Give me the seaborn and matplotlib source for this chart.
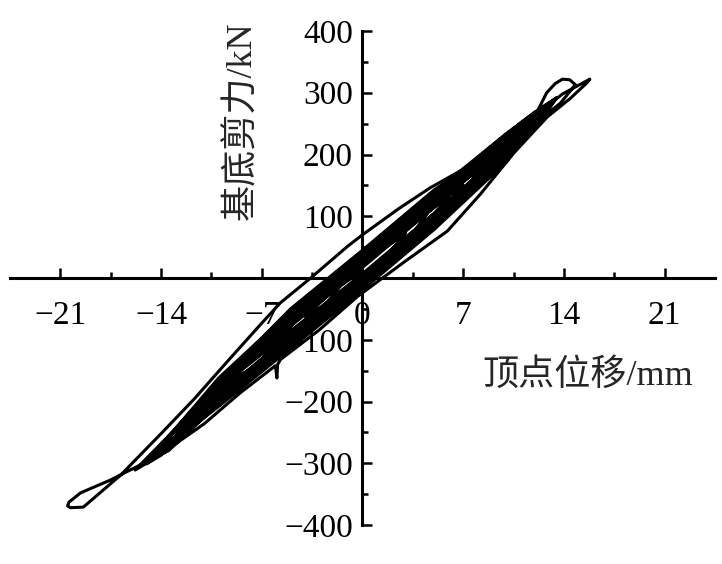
import numpy as np
import pandas as pd
import matplotlib
matplotlib.use("Agg")
import matplotlib.pyplot as plt
import seaborn as sns

# ── data: top displacement (mm) / base shear (kN) ──
# inner cycles 1-10
band1_disp = [0,
              -2.5, -1.5, 0, 2, 3, 2, 0, -3,
              -4, -3, 0, 3.5, 4.5, 3.5, 0, -4.5,
              -5.5, -4.5, 0, 5, 6, 5, 0, -5.5,
              -6.5, -5.5, 0, 6, 7, 6, 0, -6.5,
              -7.5, -6.5, 0, 5, 7, 8, 7, 5, 0, -5, -7,
              -8, -7, -5, 0, 5, 7.5, 8.5, 7.5, 5, 0, -5, -8,
              -9, -8, -5, 0, 5, 8.5, 9.5, 8.5, 5, 0, -5, -8.5,
              -9.5, -8.5, -5, 0, 5, 9, 10, 9, 5, 0, -5, -9,
              -10, -9, -5, 0, 5, 9.5, 10.5, 9.5, 5, 0, -5, -9.5,
              -10.5, -9.5, -5, 0, 5, 9.5, 10.5, 9.5, 5, 0, -5, -10]
band1_force = [3,
               -41, -12, 25, 56, 73, 45, 2, -53,
               -69, -40, 30, 88, 104, 73, -4, -82,
               -95, -64, 35, 124, 131, 105, 4, -96,
               -111, -87, 22, 133, 150, 118, -9, -118,
               -128, -95, 41, 139, 160, 171, 141, 97, -1, -96, -121,
               -136, -108, -67, 28, 126, 165, 183, 146, 84, -14, -109, -151,
               -162, -121, -50, 45, 143, 195, 204, 177, 105, 7, -86, -151,
               -175, -145, -75, 20, 118, 194, 215, 182, 92, -6, -101, -167,
               -187, -147, -57, 38, 136, 213, 226, 188, 81, -17, -112, -185,
               -199, -162, -62, 33, 131, 211, 225, 196, 100, 2, -93, -189]

# cycles 11-19
band2_disp = [-11, -10, -5, 0, 5, 10, 11, 10, 5, 0, -5, -10.5,
              -11.5, -10.5, -5, 0, 5, 10.5, 11.5, 10.5, 5, 0, -5, -11,
              -12, -11, -10, -5, 0, 5, 10, 11, 12, 11, 10, 5, 0, -5, -10, -11.5,
              -12.5, -11.5, -10, -5, 0, 5, 10, 11, 10, 5, 0, -5, -10, -12,
              -13, -12, -10, -5, 0, 5, 10, 11.5, 12.5, 11.5, 10, 5, 0, -5, -10, -12.5,
              -13.5, -12.5, -10, -5, 0, 5, 10, 11, 12, 11, 10, 5, 0, -5, -10, -13,
              -14, -13, -10, -5, 0, 5, 10, 12, 13, 12, 10, 5, 0, -5, -10, -13.5,
              -14.5, -13.5, -10, -5, 0, 5, 10, 12.5, 13.5, 12.5, 10, 5, 0, -5, -10, -14,
              -15, -14, -10, -5, 0, 5, 10, 12.5, 13.5, 12.5, 10, 5, 0, -5, -10, -14.8]
band2_force = [-211, -178, -70, 25, 123, 218, 237, 201, 87, -11, -106, -207,
               -224, -181, -52, 43, 141, 237, 249, 215, 94, -4, -99, -215,
               -237, -200, -170, -65, 30, 128, 226, 242, 259, 220, 188, 79, -19, -114, -208, -235,
               -249, -219, -180, -78, 17, 115, 216, 237, 208, 102, 4, -91, -190, -238,
               -260, -223, -165, -58, 37, 135, 231, 257, 270, 236, 196, 89, -9, -104, -200, -256,
               -271, -240, -175, -71, 24, 122, 221, 239, 259, 228, 202, 97, -1, -96, -194, -263,
               -282, -244, -162, -54, 41, 139, 234, 269, 281, 244, 192, 84, -14, -109, -204, -280,
               -291, -260, -171, -66, 29, 127, 225, 275, 292, 259, 198, 92, -6, -101, -198, -287,
               -301, -269, -167, -61, 34, 132, 229, 277, 292, 262, 204, 100, 2, -93, -192, -297]

# outer excursion: +15.8 mm tip, -20.4 mm tip, head loop near +14.4 mm
outer_disp = [-15.8, -14.8, -10, -5, 0, 5, 10, 12.5, 13.9, 15.0, 15.8,
              15.6, 14.4, 12.85, 10.5, 8.2, 5.9, 2.9, -0.35, -3, -5.7, -5.9, -5.95, -6.05,
              -8.5, -11, -13.2, -15.2, -16.67, -17.5, -19.6, -20.4, -20.5, -20.3,
              -19.4, -18.1, -16.8,
              -14, -11.7, -9.5, -7, -5.7, -3.6, -1, 0, 2.5, 4.7, 7.3, 8.9, 11, 12.2,
              12.8, 13.4, 13.9, 14.4, 14.8, 13.75, 12.6, 10, 5, 0, -3, -4, -2, 0]
outer_force = [-311, -287, -175, -70, 28, 125, 228, 272, 298, 312, 322,
               316, 290, 261, 202, 136, 76, 26, -30, -84, -132, -140, -162, -142,
               -186, -236, -272, -300, -317, -327, -348, -363, -369, -372,
               -371, -345, -319,
               -252, -196, -138, -73, -40, 0, 52, 70, 112, 146, 180, 212, 251, 272,
               300, 315, 322, 321, 313, 283, 262, 200, 92, -8, -50, -62, -20, 12]

x_ticks = [-21, -14, -7, 0, 7, 14, 21]
x_ticklabels = ["−21", "−14", "−7", "0", "7", "14", "21"]
x_minor = [-17.5, -10.5, -3.5, 3.5, 10.5, 17.5]
y_ticks = [-400, -300, -200, -100, 0, 100, 200, 300, 400]
y_ticklabels = ["−400", "−300", "−200", "−100", "", "100", "200", "300", "400"]
y_minor = [-350, -250, -150, -50, 50, 150, 250, 350]

df = pd.DataFrame({
    "disp": band1_disp + band2_disp + outer_disp,
    "force": band1_force + band2_force + outer_force,
})

sns.set_style("ticks")
plt.rcParams["font.family"] = ["Liberation Serif", "Noto Sans CJK SC"]
plt.rcParams["axes.unicode_minus"] = True

fig = plt.figure(figsize=(7.22, 5.64), dpi=100)
ax = fig.add_axes([10 / 722, 39 / 564, 705 / 722, 494 / 564])
sns.lineplot(data=df, x="disp", y="force", sort=False, estimator=None,
             color="black", lw=2.2, ax=ax)

ax.set_xlim(-24.5, 24.5)
ax.set_ylim(-400, 400)
for s in ["top", "right"]:
    ax.spines[s].set_visible(False)
for s in ["left", "bottom"]:
    ax.spines[s].set_position(("data", 0))
    ax.spines[s].set_linewidth(2.2)
    ax.spines[s].set_color("black")
ax.set_axisbelow(True)

ax.set_xticks(x_ticks)
ax.set_xticklabels(x_ticklabels)
ax.set_xticks(x_minor, minor=True)
ax.set_yticks(y_ticks)
ax.set_yticklabels(y_ticklabels)
ax.set_yticks(y_minor, minor=True)
ax.tick_params(which="major", direction="in", length=7, width=1.8, color="black",
               labelsize=24, labelcolor="black")
ax.tick_params(which="minor", direction="in", length=4.5, width=1.8, color="black")
ax.tick_params(axis="x", pad=16)
ax.tick_params(axis="y", pad=7)
ax.set_xlabel("")
ax.set_ylabel("")

fig.text(242 / 722, 1 - 121 / 564, "基底剪力/kN", rotation=90,
         ha="center", va="center", fontsize=26)
fig.text(588 / 722, 1 - 376 / 564, "顶点位移/mm", ha="center", va="center", fontsize=26)

fig.savefig("out.png", dpi=100)
